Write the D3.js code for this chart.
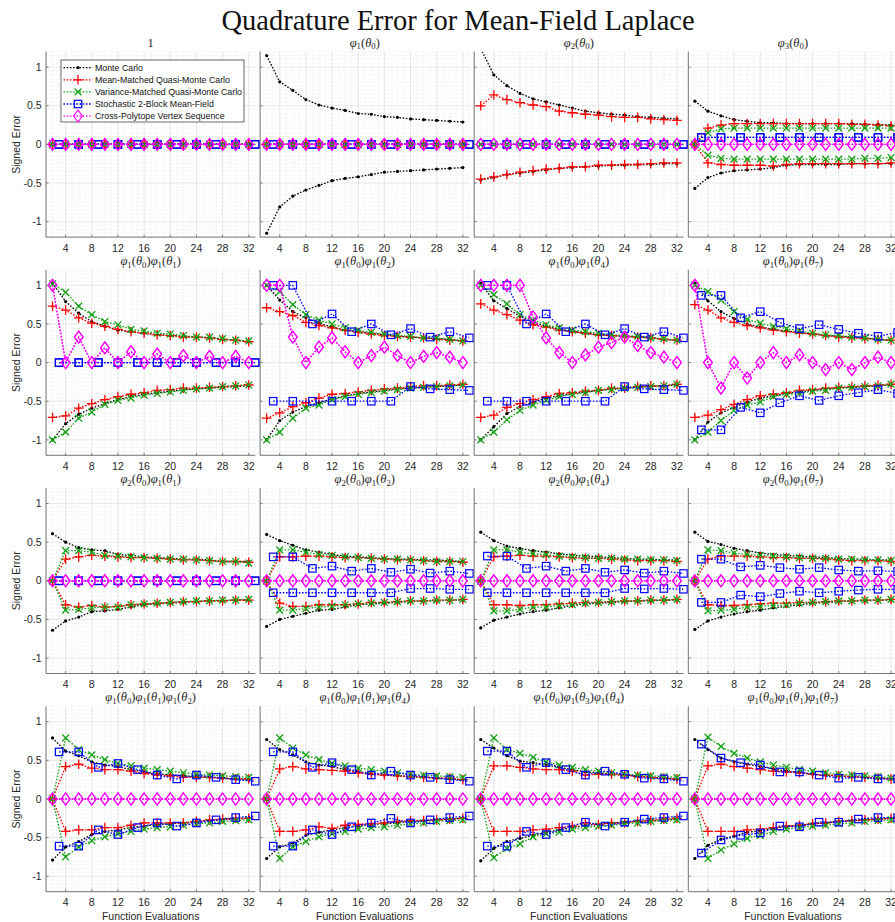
<!DOCTYPE html>
<html>
<head>
<meta charset="utf-8">
<style>
  body { margin: 0; background: #fff; }
  svg { display: block; }
  .tick-label { font-family: "Liberation Sans", Arial, sans-serif; font-size: 10.5px; fill: #262626; }
  .sub-title { font-family: "Liberation Serif", "DejaVu Serif", serif; font-size: 12.5px; fill: #262626; }
</style>
</head>
<body>
<svg id="chart" width="895" height="922"></svg>
<script src="https://d3js.org/d3.v7.min.js"></script>
<script>
// x positions of the samples
const xEven = [2,4,6,8,10,12,14,16,18,20,22,24,26,28,30,32];
const xThird = [3,6,9,12,15,18,21,24,27,30,33];
const xTicks = [4,8,12,16,20,24,28,32];
const yTicks = [-1,-0.5,0,0.5,1];

// subplot titles: list of [phi index, theta index]; empty = "1"
const panelTitles = [
  [], [[1,0]], [[2,0]], [[3,0]],
  [[1,0],[1,1]], [[1,0],[1,2]], [[1,0],[1,4]], [[1,0],[1,7]],
  [[2,0],[1,1]], [[2,0],[1,2]], [[2,0],[1,4]], [[2,0],[1,7]],
  [[1,0],[1,1],[1,2]], [[1,0],[1,1],[1,4]], [[1,0],[1,3],[1,4]], [[1,0],[1,1],[1,7]]
];

const Z16 = [0,0,0,0,0,0,0,0,0,0,0,0,0,0,0,0];
const Z11 = [0,0,0,0,0,0,0,0,0,0,0];

// Monte Carlo (upper / lower)
const mcHi = [
  Z16,
  [1.15,0.81,0.70,0.58,0.51,0.47,0.44,0.40,0.39,0.36,0.35,0.33,0.32,0.31,0.30,0.29],
  [1.24,0.90,0.76,0.66,0.59,0.55,0.51,0.47,0.43,0.41,0.39,0.38,0.36,0.35,0.34,0.33],
  [0.56,0.43,0.37,0.32,0.30,0.28,0.28,0.27,0.27,0.27,0.27,0.27,0.27,0.26,0.26,0.25],
  [1.03,0.79,0.64,0.53,0.47,0.42,0.40,0.38,0.36,0.35,0.34,0.33,0.32,0.30,0.29,0.27],
  [1.00,0.81,0.66,0.58,0.51,0.46,0.42,0.40,0.38,0.36,0.34,0.33,0.32,0.31,0.30,0.28],
  [1.03,0.80,0.70,0.60,0.52,0.47,0.43,0.40,0.38,0.36,0.35,0.34,0.33,0.32,0.30,0.29],
  [1.03,0.80,0.66,0.57,0.50,0.46,0.43,0.41,0.39,0.37,0.35,0.34,0.33,0.32,0.30,0.29],
  [0.61,0.50,0.43,0.40,0.39,0.34,0.33,0.31,0.30,0.29,0.28,0.28,0.27,0.25,0.25,0.25],
  [0.60,0.52,0.46,0.40,0.37,0.34,0.32,0.31,0.30,0.29,0.28,0.28,0.27,0.27,0.26,0.25],
  [0.63,0.52,0.45,0.42,0.39,0.37,0.35,0.33,0.32,0.31,0.30,0.29,0.28,0.28,0.27,0.27],
  [0.63,0.51,0.47,0.42,0.39,0.36,0.34,0.33,0.32,0.31,0.30,0.29,0.28,0.28,0.27,0.27],
  [0.79,0.62,0.56,0.48,0.44,0.42,0.38,0.35,0.33,0.31,0.30,0.29,0.28,0.27,0.26,0.25],
  [0.77,0.64,0.57,0.48,0.44,0.42,0.38,0.35,0.33,0.31,0.30,0.29,0.28,0.27,0.26,0.25],
  [0.77,0.66,0.56,0.49,0.47,0.44,0.41,0.38,0.35,0.34,0.32,0.31,0.30,0.28,0.27,0.26],
  [0.77,0.64,0.53,0.48,0.45,0.42,0.39,0.36,0.34,0.32,0.31,0.30,0.29,0.28,0.27,0.26]
];
const mcLo = [
  Z16,
  [-1.15,-0.81,-0.67,-0.59,-0.53,-0.47,-0.44,-0.42,-0.39,-0.36,-0.35,-0.34,-0.33,-0.32,-0.31,-0.30],
  [-0.46,-0.43,-0.39,-0.37,-0.35,-0.33,-0.31,-0.30,-0.29,-0.28,-0.27,-0.27,-0.26,-0.26,-0.25,-0.25],
  [-0.57,-0.43,-0.37,-0.34,-0.33,-0.32,-0.30,-0.27,-0.26,-0.26,-0.26,-0.26,-0.25,-0.25,-0.25,-0.25],
  [-1.00,-0.79,-0.67,-0.59,-0.53,-0.48,-0.44,-0.41,-0.39,-0.37,-0.35,-0.34,-0.33,-0.32,-0.31,-0.30],
  [-1.00,-0.75,-0.64,-0.57,-0.52,-0.47,-0.43,-0.40,-0.38,-0.36,-0.34,-0.33,-0.32,-0.31,-0.30,-0.29],
  [-1.00,-0.83,-0.66,-0.57,-0.51,-0.46,-0.43,-0.40,-0.38,-0.36,-0.34,-0.33,-0.32,-0.31,-0.30,-0.29],
  [-1.00,-0.77,-0.65,-0.58,-0.51,-0.46,-0.43,-0.40,-0.38,-0.36,-0.34,-0.33,-0.32,-0.31,-0.30,-0.29],
  [-0.64,-0.52,-0.47,-0.40,-0.39,-0.37,-0.34,-0.31,-0.30,-0.29,-0.28,-0.27,-0.26,-0.26,-0.25,-0.25],
  [-0.59,-0.50,-0.46,-0.42,-0.38,-0.37,-0.34,-0.31,-0.30,-0.29,-0.28,-0.27,-0.26,-0.26,-0.25,-0.25],
  [-0.61,-0.51,-0.47,-0.43,-0.40,-0.38,-0.35,-0.32,-0.30,-0.29,-0.28,-0.27,-0.26,-0.26,-0.25,-0.25],
  [-0.63,-0.52,-0.47,-0.43,-0.40,-0.38,-0.35,-0.33,-0.31,-0.29,-0.28,-0.27,-0.26,-0.26,-0.25,-0.25],
  [-0.79,-0.62,-0.55,-0.46,-0.42,-0.40,-0.37,-0.35,-0.33,-0.32,-0.31,-0.29,-0.28,-0.27,-0.26,-0.25],
  [-0.77,-0.62,-0.57,-0.47,-0.43,-0.40,-0.37,-0.35,-0.33,-0.32,-0.31,-0.29,-0.28,-0.27,-0.26,-0.25],
  [-0.80,-0.64,-0.55,-0.51,-0.47,-0.43,-0.40,-0.37,-0.34,-0.33,-0.31,-0.30,-0.29,-0.28,-0.27,-0.26],
  [-0.77,-0.60,-0.52,-0.48,-0.43,-0.41,-0.38,-0.36,-0.34,-0.32,-0.31,-0.29,-0.28,-0.27,-0.26,-0.25]
];

// Mean-Matched Quasi-Monte Carlo
const mmHi = [
  Z16, Z16,
  [0.50,0.64,0.58,0.54,0.51,0.49,0.43,0.41,0.39,0.38,0.36,0.35,0.35,0.33,0.32,0.31],
  [0,0.21,0.25,0.27,0.27,0.27,0.27,0.27,0.27,0.27,0.27,0.27,0.26,0.26,0.25,0.24],
  [0.73,0.68,0.58,0.51,0.47,0.43,0.40,0.38,0.36,0.35,0.33,0.33,0.32,0.30,0.29,0.27],
  [0.71,0.66,0.61,0.52,0.48,0.45,0.42,0.39,0.37,0.35,0.34,0.33,0.32,0.30,0.29,0.28],
  [0.76,0.68,0.62,0.55,0.49,0.46,0.42,0.40,0.38,0.36,0.35,0.34,0.33,0.32,0.30,0.29],
  [0.75,0.68,0.58,0.52,0.48,0.45,0.42,0.40,0.38,0.37,0.35,0.33,0.32,0.31,0.30,0.29],
  [0,0.28,0.31,0.33,0.32,0.31,0.30,0.30,0.29,0.28,0.27,0.27,0.26,0.25,0.25,0.24],
  [0,0.31,0.31,0.32,0.32,0.31,0.30,0.30,0.29,0.28,0.27,0.27,0.26,0.25,0.25,0.24],
  [0,0.31,0.32,0.33,0.32,0.32,0.31,0.30,0.29,0.29,0.28,0.27,0.26,0.26,0.26,0.25],
  [0,0.28,0.32,0.32,0.32,0.31,0.30,0.30,0.29,0.29,0.28,0.27,0.26,0.26,0.26,0.25],
  [0,0.42,0.45,0.40,0.38,0.38,0.36,0.33,0.31,0.30,0.28,0.28,0.28,0.27,0.26,0.26],
  [0,0.39,0.42,0.39,0.38,0.37,0.36,0.34,0.32,0.31,0.30,0.29,0.28,0.27,0.27,0.25],
  [0,0.43,0.43,0.41,0.39,0.38,0.38,0.36,0.31,0.32,0.32,0.31,0.29,0.28,0.27,0.26],
  [0,0.43,0.45,0.42,0.40,0.38,0.36,0.35,0.34,0.32,0.31,0.30,0.29,0.28,0.27,0.26]
];
const mmLo = [
  Z16, Z16,
  [-0.45,-0.42,-0.39,-0.36,-0.34,-0.32,-0.31,-0.29,-0.29,-0.27,-0.27,-0.26,-0.26,-0.25,-0.24,-0.24],
  [0,-0.24,-0.26,-0.27,-0.27,-0.27,-0.28,-0.26,-0.25,-0.25,-0.25,-0.25,-0.25,-0.25,-0.25,-0.24],
  [-0.71,-0.69,-0.59,-0.53,-0.48,-0.44,-0.41,-0.39,-0.36,-0.35,-0.33,-0.33,-0.32,-0.31,-0.30,-0.29],
  [-0.72,-0.65,-0.57,-0.52,-0.46,-0.41,-0.40,-0.38,-0.36,-0.34,-0.33,-0.31,-0.30,-0.30,-0.29,-0.28],
  [-0.71,-0.68,-0.58,-0.53,-0.48,-0.44,-0.40,-0.39,-0.37,-0.36,-0.33,-0.33,-0.31,-0.30,-0.30,-0.28],
  [-0.71,-0.68,-0.61,-0.54,-0.48,-0.43,-0.41,-0.39,-0.36,-0.35,-0.33,-0.32,-0.31,-0.30,-0.29,-0.28],
  [0,-0.31,-0.34,-0.32,-0.34,-0.33,-0.31,-0.30,-0.29,-0.28,-0.27,-0.27,-0.26,-0.26,-0.25,-0.25],
  [0,-0.29,-0.33,-0.33,-0.31,-0.31,-0.31,-0.30,-0.28,-0.28,-0.27,-0.26,-0.26,-0.25,-0.25,-0.24],
  [0,-0.31,-0.31,-0.32,-0.31,-0.31,-0.30,-0.29,-0.28,-0.28,-0.27,-0.26,-0.26,-0.25,-0.25,-0.24],
  [0,-0.31,-0.32,-0.32,-0.31,-0.30,-0.29,-0.29,-0.28,-0.28,-0.27,-0.26,-0.26,-0.25,-0.25,-0.24],
  [0,-0.42,-0.40,-0.40,-0.37,-0.37,-0.34,-0.31,-0.31,-0.31,-0.31,-0.29,-0.27,-0.26,-0.25,-0.25],
  [0,-0.42,-0.42,-0.40,-0.36,-0.38,-0.34,-0.33,-0.32,-0.31,-0.29,-0.28,-0.28,-0.27,-0.26,-0.25],
  [0,-0.42,-0.42,-0.42,-0.40,-0.39,-0.37,-0.35,-0.31,-0.33,-0.31,-0.31,-0.29,-0.28,-0.26,-0.25],
  [0,-0.42,-0.42,-0.42,-0.40,-0.39,-0.37,-0.35,-0.34,-0.32,-0.31,-0.29,-0.28,-0.27,-0.26,-0.25]
];

// Variance-Matched Quasi-Monte Carlo
const vmHi = [
  Z16, Z16, Z16,
  [0,0.15,0.20,0.21,0.21,0.21,0.21,0.21,0.21,0.21,0.21,0.21,0.21,0.21,0.21,0.21],
  [1.02,0.91,0.73,0.62,0.53,0.49,0.43,0.41,0.38,0.37,0.35,0.33,0.33,0.31,0.29,0.28],
  [1.00,0.92,0.75,0.62,0.55,0.50,0.45,0.42,0.39,0.37,0.35,0.34,0.32,0.32,0.30,0.28],
  [1.00,0.88,0.76,0.62,0.55,0.49,0.45,0.42,0.40,0.38,0.36,0.35,0.34,0.32,0.31,0.29],
  [1.00,0.92,0.81,0.66,0.56,0.51,0.47,0.44,0.41,0.38,0.36,0.35,0.33,0.32,0.30,0.29],
  [0,0.39,0.39,0.37,0.33,0.32,0.31,0.30,0.29,0.28,0.28,0.27,0.26,0.25,0.25,0.23],
  [0,0.40,0.40,0.37,0.34,0.33,0.31,0.30,0.29,0.28,0.28,0.27,0.26,0.25,0.25,0.25],
  [0,0.40,0.40,0.37,0.35,0.34,0.32,0.31,0.30,0.29,0.29,0.28,0.28,0.27,0.27,0.26],
  [0,0.40,0.39,0.36,0.34,0.33,0.32,0.31,0.30,0.29,0.29,0.28,0.28,0.27,0.27,0.26],
  [0,0.79,0.64,0.57,0.51,0.46,0.43,0.40,0.38,0.36,0.34,0.32,0.31,0.30,0.29,0.28],
  [0,0.79,0.66,0.57,0.51,0.46,0.43,0.40,0.38,0.36,0.34,0.32,0.31,0.30,0.29,0.28],
  [0,0.79,0.64,0.59,0.54,0.48,0.44,0.41,0.38,0.36,0.34,0.32,0.31,0.30,0.29,0.28],
  [0,0.80,0.68,0.59,0.53,0.48,0.44,0.41,0.38,0.36,0.34,0.32,0.31,0.30,0.29,0.27]
];
const vmLo = [
  Z16, Z16, Z16,
  [0,-0.14,-0.18,-0.19,-0.19,-0.19,-0.19,-0.19,-0.19,-0.19,-0.19,-0.19,-0.19,-0.18,-0.18,-0.17],
  [-1.00,-0.90,-0.72,-0.64,-0.54,-0.49,-0.46,-0.42,-0.40,-0.38,-0.36,-0.34,-0.33,-0.31,-0.30,-0.29],
  [-1.00,-0.90,-0.72,-0.59,-0.55,-0.48,-0.44,-0.41,-0.39,-0.37,-0.35,-0.33,-0.32,-0.31,-0.30,-0.29],
  [-1.00,-0.90,-0.74,-0.62,-0.55,-0.49,-0.44,-0.41,-0.39,-0.36,-0.35,-0.33,-0.32,-0.31,-0.30,-0.28],
  [-1.00,-0.90,-0.75,-0.62,-0.55,-0.51,-0.44,-0.41,-0.40,-0.37,-0.36,-0.33,-0.32,-0.31,-0.30,-0.28],
  [0,-0.38,-0.37,-0.35,-0.34,-0.34,-0.31,-0.30,-0.29,-0.28,-0.27,-0.26,-0.26,-0.25,-0.25,-0.24],
  [0,-0.38,-0.38,-0.36,-0.34,-0.33,-0.31,-0.30,-0.29,-0.28,-0.27,-0.26,-0.26,-0.25,-0.25,-0.24],
  [0,-0.39,-0.39,-0.37,-0.34,-0.34,-0.32,-0.31,-0.29,-0.28,-0.27,-0.26,-0.26,-0.25,-0.25,-0.24],
  [0,-0.39,-0.38,-0.37,-0.34,-0.33,-0.32,-0.31,-0.29,-0.28,-0.27,-0.26,-0.26,-0.25,-0.25,-0.24],
  [0,-0.75,-0.62,-0.54,-0.49,-0.45,-0.42,-0.39,-0.37,-0.36,-0.34,-0.32,-0.31,-0.29,-0.28,-0.27],
  [0,-0.77,-0.62,-0.55,-0.49,-0.45,-0.42,-0.39,-0.37,-0.36,-0.34,-0.32,-0.31,-0.29,-0.28,-0.27],
  [0,-0.76,-0.64,-0.58,-0.49,-0.45,-0.43,-0.39,-0.37,-0.35,-0.34,-0.32,-0.31,-0.29,-0.28,-0.27],
  [0,-0.77,-0.66,-0.58,-0.51,-0.47,-0.42,-0.39,-0.37,-0.35,-0.34,-0.32,-0.31,-0.29,-0.28,-0.27]
];

// Stochastic 2-Block Mean-Field (x = 3, 6, ..., 33)
const sbHi = [
  Z11, Z11, Z11,
  [0.09,0.09,0.09,0.09,0.09,0.09,0.09,0.09,0.09,0.09,0.09],
  Z11,
  [1.00,1.00,0.50,0.63,0.40,0.50,0.36,0.44,0.33,0.40,0.32],
  [1.00,1.00,0.50,0.63,0.40,0.50,0.36,0.44,0.33,0.40,0.32],
  [0.87,0.87,0.58,0.66,0.52,0.44,0.49,0.43,0.38,0.34,0.39],
  Z11,
  [0.31,0.31,0.16,0.19,0.125,0.16,0.11,0.15,0.10,0.125,0.095],
  [0.32,0.32,0.16,0.19,0.125,0.16,0.11,0.14,0.10,0.125,0.095],
  [0.28,0.28,0.18,0.20,0.17,0.15,0.17,0.14,0.125,0.13,0.12],
  [0.61,0.61,0.41,0.46,0.38,0.31,0.26,0.31,0.28,0.25,0.23],
  [0.61,0.61,0.41,0.47,0.38,0.31,0.36,0.31,0.28,0.25,0.23],
  [0.62,0.62,0.41,0.47,0.38,0.31,0.36,0.32,0.27,0.26,0.23],
  [0.71,0.53,0.47,0.44,0.35,0.35,0.31,0.27,0.28,0.26,0.26]
];
const sbLo = [
  Z11, Z11, Z11,
  [0.09,0.09,0.09,0.09,0.09,0.09,0.09,0.09,0.09,0.09,0.09],
  Z11,
  [-0.50,-0.50,-0.50,-0.50,-0.50,-0.50,-0.50,-0.31,-0.34,-0.35,-0.36],
  [-0.50,-0.50,-0.50,-0.50,-0.50,-0.50,-0.50,-0.31,-0.34,-0.35,-0.36],
  [-0.87,-0.87,-0.58,-0.65,-0.52,-0.43,-0.49,-0.43,-0.39,-0.35,-0.40],
  Z11,
  [-0.155,-0.155,-0.155,-0.155,-0.155,-0.155,-0.155,-0.10,-0.10,-0.11,-0.11],
  [-0.155,-0.155,-0.155,-0.155,-0.155,-0.155,-0.155,-0.10,-0.105,-0.10,-0.11],
  [-0.28,-0.28,-0.185,-0.205,-0.165,-0.135,-0.155,-0.135,-0.12,-0.11,-0.11],
  [-0.61,-0.61,-0.40,-0.46,-0.37,-0.31,-0.35,-0.31,-0.27,-0.24,-0.22],
  [-0.61,-0.61,-0.40,-0.46,-0.36,-0.31,-0.25,-0.31,-0.27,-0.24,-0.22],
  [-0.61,-0.61,-0.42,-0.46,-0.37,-0.30,-0.35,-0.30,-0.26,-0.24,-0.22],
  [-0.70,-0.53,-0.47,-0.44,-0.35,-0.36,-0.30,-0.30,-0.26,-0.24,-0.24]
];

// Cross-Polytope Vertex Sequence (deterministic, one curve)
const cpVal = [
  Z16, Z16, Z16, Z16,
  [1.00,0,0.33,0,0.19,0,0.14,0,0.11,0,0.09,0,0.08,0,0.08,0],
  [1.00,1.00,0.33,0,0.20,0.32,0.14,0,0.09,0.20,0.09,0,0.08,0.13,0.07,0],
  [1.00,1.00,1.00,1.00,0.59,0.32,0.13,0,0.10,0.20,0.26,0.33,0.22,0.13,0.07,0],
  [1.00,0,-0.33,0,-0.20,0,0.13,0,0.10,0,-0.09,0,-0.09,0,0.07,0],
  Z16, Z16, Z16, Z16, Z16, Z16, Z16, Z16
];

const series = [
  {name: "Monte Carlo", color: "#000000", marker: "dot", x: xEven, hi: mcHi, lo: mcLo},
  {name: "Mean-Matched Quasi-Monte Carlo", color: "#ff0000", marker: "plus", x: xEven, hi: mmHi, lo: mmLo},
  {name: "Variance-Matched Quasi-Monte Carlo", color: "#13a013", marker: "cross", x: xEven, hi: vmHi, lo: vmLo},
  {name: "Stochastic 2-Block Mean-Field", color: "#0000ff", marker: "square", x: xThird, hi: sbHi, lo: sbLo},
  {name: "Cross-Polytope Vertex Sequence", color: "#ff00ff", marker: "diamond", x: xEven, hi: cpVal, lo: cpVal}
];

// layout
const panelW = 209.3, panelH = 185.4;
const colX = i => 46 + i * 214.1;
const rowY = j => 51.7 + j * 218.2;

const svg = d3.select("#chart");

const x = d3.scaleLinear().domain([1, 33]).range([0, panelW]);
const y = d3.scaleLinear().domain([-1.2, 1.2]).range([panelH, 0]);

svg.append("defs").append("clipPath").attr("id", "pclip")
  .append("rect").attr("width", panelW).attr("height", panelH);

function drawMarker(sel, kind, color) {
  if (kind === "dot") {
    sel.append("circle").attr("r", 1.6).attr("fill", color);
  } else if (kind === "plus") {
    sel.append("path").attr("d", "M-4.8,0H4.8M0,-4.8V4.8")
      .attr("stroke", color).attr("stroke-width", 1.3).attr("fill", "none");
  } else if (kind === "cross") {
    sel.append("path").attr("d", "M-3.4,-3.4L3.4,3.4M-3.4,3.4L3.4,-3.4")
      .attr("stroke", color).attr("stroke-width", 1.3).attr("fill", "none");
  } else if (kind === "square") {
    sel.append("rect").attr("x", -3.7).attr("y", -3.7).attr("width", 7.4).attr("height", 7.4)
      .attr("stroke", color).attr("stroke-width", 1.2).attr("fill", "none");
  } else if (kind === "diamond") {
    sel.append("path").attr("d", "M0,-6L4.4,0L0,6L-4.4,0Z")
      .attr("stroke", color).attr("stroke-width", 1.1).attr("fill", "none");
  }
}

const line = d3.line().x(d => x(d[0])).y(d => y(d[1]));

for (let p = 0; p < 16; p++) {
  const col = p % 4, row = Math.floor(p / 4);
  const g = svg.append("g").attr("transform", `translate(${colX(col)},${rowY(row)})`);

  // minor grid
  const minorX = d3.range(1, 34).filter(v => v % 4 !== 0);
  const minorY = d3.range(-24, 25).map(v => v * 0.05).filter(v => Math.abs(v * 2 - Math.round(v * 2)) > 1e-6);
  g.selectAll(".mgx").data(minorX).join("line")
    .attr("x1", d => x(d)).attr("x2", d => x(d)).attr("y1", 0).attr("y2", panelH)
    .attr("stroke", "#e2e2e2").attr("stroke-width", 0.6).attr("stroke-dasharray", "1,1.5");
  g.selectAll(".mgy").data(minorY).join("line")
    .attr("y1", d => y(d)).attr("y2", d => y(d)).attr("x1", 0).attr("x2", panelW)
    .attr("stroke", "#e2e2e2").attr("stroke-width", 0.6).attr("stroke-dasharray", "1,1.5");

  // major grid
  g.selectAll(".gx").data(xTicks).join("line")
    .attr("x1", d => x(d)).attr("x2", d => x(d)).attr("y1", 0).attr("y2", panelH)
    .attr("stroke", "#dcdcdc").attr("stroke-width", 0.7);
  g.selectAll(".gy").data(yTicks).join("line")
    .attr("y1", d => y(d)).attr("y2", d => y(d)).attr("x1", 0).attr("x2", panelW)
    .attr("stroke", "#dcdcdc").attr("stroke-width", 0.7);

  // axes lines + ticks
  g.append("line").attr("x1", 0).attr("x2", 0).attr("y1", 0).attr("y2", panelH)
    .attr("stroke", "#666").attr("stroke-width", 0.9);
  g.append("line").attr("x1", 0).attr("x2", panelW).attr("y1", panelH).attr("y2", panelH)
    .attr("stroke", "#666").attr("stroke-width", 0.9);
  g.selectAll(".tx").data(xTicks).join("line")
    .attr("x1", d => x(d)).attr("x2", d => x(d)).attr("y1", panelH).attr("y2", panelH - 2.5)
    .attr("stroke", "#666").attr("stroke-width", 0.8);
  g.selectAll(".ty").data(yTicks).join("line")
    .attr("y1", d => y(d)).attr("y2", d => y(d)).attr("x1", 0).attr("x2", 2.5)
    .attr("stroke", "#666").attr("stroke-width", 0.8);

  // x tick labels
  g.selectAll(".xl").data(xTicks).join("text")
    .attr("class", "tick-label")
    .attr("x", d => x(d)).attr("y", panelH + 14.5)
    .attr("text-anchor", "middle")
    .text(d => d);

  if (col === 0) {
    g.selectAll(".yl").data(yTicks).join("text")
      .attr("class", "tick-label")
      .attr("x", -4.5).attr("y", d => y(d) + 3.7)
      .attr("text-anchor", "end")
      .text(d => d);
    g.append("text")
      .attr("class", "tick-label")
      .attr("transform", `translate(-26,${panelH / 2}) rotate(-90)`)
      .attr("text-anchor", "middle")
      .text("Signed Error");
  }
  if (row === 3) {
    g.append("text")
      .attr("class", "tick-label")
      .attr("x", panelW / 2).attr("y", panelH + 28.5)
      .attr("text-anchor", "middle")
      .text("Function Evaluations");
  }

  // subplot title
  const t = g.append("text").attr("class", "sub-title")
    .attr("x", panelW / 2).attr("y", -5).attr("text-anchor", "middle");
  const factors = panelTitles[p];
  if (factors.length === 0) {
    t.text("1");
  } else {
    factors.forEach(f => {
      t.append("tspan").attr("font-style", "italic").text("φ");
      t.append("tspan").attr("font-size", "8.8px").attr("dy", 2.6).text(f[0]);
      t.append("tspan").attr("dy", -2.6).text("(");
      t.append("tspan").attr("font-style", "italic").text("θ");
      t.append("tspan").attr("font-size", "8.8px").attr("dy", 2.6).text(f[1]);
      t.append("tspan").attr("dy", -2.6).text(")");
    });
  }

  // series
  series.forEach(s => {
    [s.hi[p], s.lo[p]].forEach(vals => {
      const pts = s.x.map((xv, i) => [xv, vals[i]]);
      g.append("path")
        .attr("d", line(pts))
        .attr("clip-path", "url(#pclip)")
        .attr("fill", "none")
        .attr("stroke", s.color)
        .attr("stroke-width", 1.3)
        .attr("stroke-dasharray", "1.6,1.6");
      const inside = pts.filter(d => d[1] >= -1.2 && d[1] <= 1.2);
      const m = g.append("g").selectAll("g").data(inside).join("g")
        .attr("transform", d => `translate(${x(d[0])},${y(d[1])})`);
      drawMarker(m, s.marker, s.color);
    });
  });

  // legend in first panel
  if (p === 0) {
    const lg = svg.append("g").attr("transform", "translate(61,60)");
    lg.append("rect").attr("width", 183).attr("height", 62)
      .attr("fill", "#fff").attr("stroke", "#444").attr("stroke-width", 0.8);
    series.forEach((s, i) => {
      const row = lg.append("g").attr("transform", `translate(0,${7.7 + i * 12.1})`);
      row.append("line").attr("x1", 2.5).attr("x2", 31.5).attr("y1", 0).attr("y2", 0)
        .attr("stroke", s.color).attr("stroke-width", 1.3).attr("stroke-dasharray", "1.6,1.6");
      drawMarker(row.append("g").attr("transform", "translate(17,0)"), s.marker, s.color);
      row.append("text")
        .attr("x", 34).attr("y", 3)
        .style("font-family", "'Liberation Sans', Arial, sans-serif")
        .style("font-size", "8.8px").style("fill", "#111")
        .text(s.name);
    });
  }
}

// main title
svg.append("text")
  .attr("x", 458).attr("y", 30)
  .attr("text-anchor", "middle")
  .style("font-family", "'Liberation Serif', 'DejaVu Serif', serif")
  .style("font-size", "28.5px").style("fill", "#111")
  .text("Quadrature Error for Mean-Field Laplace");
</script>
</body>
</html>
